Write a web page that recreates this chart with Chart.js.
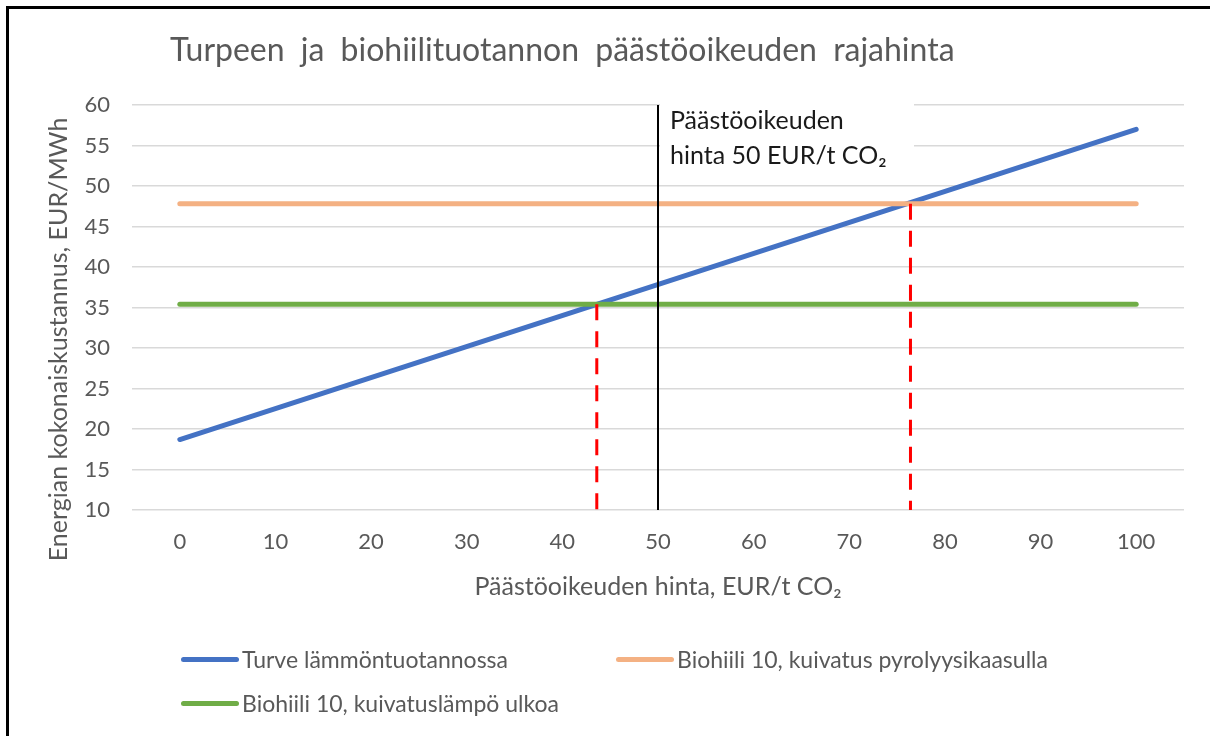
<!DOCTYPE html>
<html>
<head>
<meta charset="utf-8">
<script src="https://cdn.jsdelivr.net/npm/chart.js@4"></script>
<style>
  html, body { margin: 0; background: #fff; font-family: Lato, sans-serif; overflow: hidden; }
  #wrap { position: relative; width: 1210px; height: 736px; overflow: hidden; }
  canvas { display: block; }
  #frame { position: absolute; left: 6px; top: 6px; right: -10px; bottom: -10px;
           border-left: 3px solid #000; border-top: 3px solid #000; pointer-events: none; }
  #otsikko { position: absolute; left: 170px; top: 33px; font-size: 32px; line-height: 32px; color: #595959;
             word-spacing: 8px; white-space: nowrap; }
  .leg { position: absolute; display: flex; align-items: center; font-size: 23px; line-height: 24px; color: #595959; white-space: nowrap; }
  .leg span.viiva { display: inline-block; width: 58px; height: 5px; border-radius: 3px; margin-right: 3px; }
</style>
</head>
<body>
<div id="wrap">
  <canvas id="myChart" width="1210" height="736"></canvas>
  <div id="otsikko">Turpeen ja biohiilituotannon päästöoikeuden rajahinta</div>
  <div id="legenda"></div>
  <div id="frame"></div>
</div>
<script>
// data luettu kuvasta
const hintaX = [0, 100];
const turve = [18.7, 57];
const biohiiliPyrolyysi = [47.8, 47.8];
const biohiiliUlkoa = [35.4, 35.4];
const xTicks = [0, 10, 20, 30, 40, 50, 60, 70, 80, 90, 100];
const paastoHinta = 50;
const rajahinnat = [43.6, 76.4];
const rajaTasot = [35.4, 47.8];
const yMin = 10, yMax = 60;

const sarjat = [
    { label: 'Turve lämmöntuotannossa', arvot: turve, vari: '#4472C4', order: 5 },
    { label: 'Biohiili 10, kuivatus pyrolyysikaasulla', arvot: biohiiliPyrolyysi, vari: '#F4B183', order: 4 },
    { label: 'Biohiili 10, kuivatuslämpö ulkoa', arvot: biohiiliUlkoa, vari: '#70AD47', order: 3 }
];

const datasets = sarjat.map(function (s) {
    return {
        label: s.label,
        data: hintaX.map(function (x, i) { return { x: x, y: s.arvot[i] }; }),
        borderColor: s.vari,
        backgroundColor: s.vari,
        borderWidth: 5,
        borderCapStyle: 'round',
        pointRadius: 0,
        order: s.order,
        clip: false
    };
});

// päästöoikeuden hinta pystyviiva
datasets.push({
    label: 'hinta',
    data: [{ x: paastoHinta, y: yMin }, { x: paastoHinta, y: yMax }],
    borderColor: '#000',
    borderWidth: 2,
    pointRadius: 0,
    order: 1
});

// rajahinnat punaisella katkoviivalla
rajahinnat.forEach(function (h, i) {
    datasets.push({
        label: 'raja' + i,
        data: [{ x: h, y: rajaTasot[i] }, { x: h, y: yMin }],
        borderColor: '#FF0000',
        borderWidth: 3,
        borderDash: [16, 11],
        pointRadius: 0,
        order: 2
    });
});

const tekstiLaatikko = {
    id: 'tekstiLaatikko',
    beforeDatasetsDraw: function (chart) {
        const c = chart.ctx;
        const x = chart.scales.x.getPixelForValue(paastoHinta);
        const y = chart.scales.y.getPixelForValue(yMax);
        c.save();
        c.fillStyle = '#fff';
        c.fillRect(x + 2, y - 5, 254, 72);
        c.fillStyle = '#1a1a1a';
        c.font = '25px Lato';
        c.textBaseline = 'middle';
        c.fillText('Päästöoikeuden', x + 12, y + 16);
        c.fillText('hinta 50 EUR/t CO₂', x + 12, y + 51);
        c.restore();
    }
};

const ctx = document.getElementById('myChart').getContext('2d');
const myChart = new Chart(ctx, {
    type: 'line',
    data: { datasets: datasets },
    options: {
        responsive: false,
        animation: false,
        layout: { padding: { left: 8, top: 105, right: 26, bottom: 132 } },
        plugins: {
            legend: { display: false },
            tooltip: { enabled: false }
        },
        scales: {
            x: {
                type: 'linear',
                min: -5,
                max: 105,
                afterBuildTicks: function (scale) {
                    scale.ticks = xTicks.map(function (v) { return { value: v }; });
                },
                afterFit: function (scale) { scale.height = 94; },
                grid: { display: false, drawTicks: false },
                border: { display: false },
                ticks: { color: '#595959', font: { family: 'Lato', size: 22 }, padding: 19, maxRotation: 0 },
                title: {
                    display: true,
                    text: 'Päästöoikeuden hinta, EUR/t CO₂',
                    color: '#595959',
                    font: { family: 'Lato', size: 25 },
                    padding: { top: 0, bottom: 2 }
                }
            },
            y: {
                min: yMin,
                max: yMax,
                afterFit: function (scale) { scale.width = 124; },
                grid: { color: '#d9d9d9', lineWidth: 1.5, drawTicks: false },
                border: { display: false },
                ticks: { stepSize: 5, color: '#595959', font: { family: 'Lato', size: 22 }, padding: 22 },
                title: {
                    display: true,
                    text: 'Energian kokonaiskustannus, EUR/MWh          ',
                    color: '#595959',
                    font: { family: 'Lato', size: 25 },
                    padding: { top: 36, bottom: 0 }
                }
            }
        }
    },
    plugins: [tekstiLaatikko]
});

// selite kahteen sarakkeeseen
const paikat = [[181, 659], [616, 659], [181, 703]];
const leg = document.getElementById('legenda');
sarjat.forEach(function (s, i) {
    const d = document.createElement('div');
    d.className = 'leg';
    d.style.left = paikat[i][0] + 'px';
    d.style.top = (paikat[i][1] - 12) + 'px';
    d.innerHTML = '<span class="viiva" style="background:' + s.vari + '"></span>' + s.label;
    leg.appendChild(d);
});
</script>
</body>
</html>
